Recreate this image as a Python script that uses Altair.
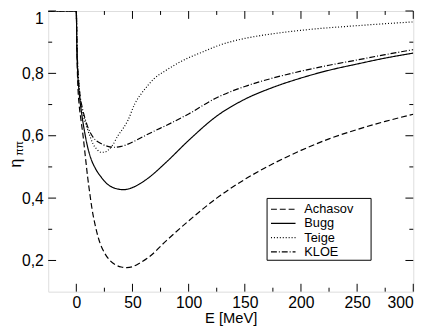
import altair as alt
import pandas as pd

series = ["Achasov", "Bugg", "Teige", "KLOE"]
dashes = [[6, 3], [1, 0], [1, 2], [6, 2, 1, 2]]

achasov_E = [-25, 0, 0.5, 1, 1.5, 2.5, 4, 6, 8, 10, 12, 14, 17, 20, 25, 30, 35, 40, 45, 50, 57, 65, 80, 100, 125, 150, 175, 200, 225, 250, 275, 300]
achasov_eta = [1, 1, 0.88, 0.80, 0.75, 0.70, 0.655, 0.60, 0.535, 0.47, 0.415, 0.365, 0.31, 0.268, 0.225, 0.20, 0.186, 0.179, 0.177, 0.18, 0.193, 0.212, 0.263, 0.327, 0.40, 0.46, 0.51, 0.553, 0.59, 0.62, 0.646, 0.669]

bugg_E = [-25, 0, 0.5, 1, 2, 3.5, 5, 7, 10, 13, 17, 22, 27, 32, 37, 42, 47, 52, 57, 65, 80, 100, 125, 150, 175, 200, 225, 250, 275, 300]
bugg_eta = [1, 1, 0.88, 0.82, 0.76, 0.705, 0.665, 0.62, 0.565, 0.527, 0.495, 0.468, 0.447, 0.435, 0.429, 0.427, 0.43, 0.437, 0.447, 0.467, 0.515, 0.585, 0.663, 0.717, 0.755, 0.785, 0.81, 0.83, 0.849, 0.865]

teige_E = [-25, 0, 0.5, 1, 2, 3.5, 5, 7, 9.6, 12.5, 15, 18.4, 22, 25, 28, 32, 37, 42, 46, 52, 60, 69, 80, 90, 100, 112, 127, 150, 175, 200, 250, 300]
teige_eta = [1, 1, 0.9, 0.84, 0.78, 0.72, 0.685, 0.655, 0.625, 0.595, 0.573, 0.556, 0.547, 0.547, 0.553, 0.568, 0.6, 0.625, 0.65, 0.702, 0.745, 0.782, 0.81, 0.832, 0.85, 0.868, 0.89, 0.912, 0.927, 0.938, 0.953, 0.965]

kloe_E = [-25, 0, 0.5, 1, 2, 3.5, 5, 7, 10, 15, 22, 28, 34, 40, 46, 52, 60, 70, 80, 100, 125, 150, 175, 200, 225, 250, 275, 300]
kloe_eta = [1, 1, 0.9, 0.845, 0.78, 0.725, 0.695, 0.665, 0.63, 0.595, 0.575, 0.566, 0.563, 0.566, 0.573, 0.583, 0.598, 0.616, 0.633, 0.67, 0.722, 0.758, 0.785, 0.807, 0.826, 0.843, 0.86, 0.876]

x_major = [0, 50, 100, 150, 200, 250, 300]
x_minor = [25, 75, 125, 175, 225, 275]
y_major = [0.2, 0.4, 0.6, 0.8, 1.0]
y_minor = [0.3, 0.5, 0.7, 0.9]

W, H = 372, 286
FONT = "Liberation Sans"

rows = []
for name, E, eta in [("Achasov", achasov_E, achasov_eta), ("Bugg", bugg_E, bugg_eta),
                     ("Teige", teige_E, teige_eta), ("KLOE", kloe_E, kloe_eta)]:
    for e, v in zip(E, eta):
        rows.append({"series": name, "E": e, "eta": v})
df = pd.DataFrame(rows)

xscale = alt.Scale(domain=[-25, 300], nice=False, zero=False)
yscale = alt.Scale(domain=[0.1, 1.0], nice=False, zero=False)

x_axis = alt.Axis(
    values=x_major, title="E [MeV]", ticks=False, tickSize=0, domain=False, grid=False,
    labelFont=FONT, labelFontSize=16, labelPadding=3, labelColor="black",
    titleFont=FONT, titleFontSize=15, titleFontWeight="normal", titleColor="black", titlePadding=0)
y_axis = alt.Axis(
    values=y_major, title=None, ticks=False, tickSize=0, domain=False, grid=False,
    labelFont=FONT, labelFontSize=16, labelPadding=5, labelColor="black",
    labelExpr="datum.value == 1 ? '1' : replace(format(datum.value, '.1f'), '.', ',')",
    labelBaseline={"condition": {"test": "datum.value == 1", "value": "top"}, "value": "middle"})

lines = alt.Chart(df).mark_line(color="black", strokeWidth=1.2, interpolate="monotone", clip=True).encode(
    x=alt.X("E:Q", scale=xscale, axis=x_axis),
    y=alt.Y("eta:Q", scale=yscale, axis=y_axis),
    strokeDash=alt.StrokeDash("series:N", sort=series,
        scale=alt.Scale(domain=series, range=dashes), legend=None),
)

def xticks(vals, length, top):
    d = pd.DataFrame({"E": vals})
    y0 = 0 if top else H
    y1 = length if top else H - length
    return alt.Chart(d).mark_rule(color="black", strokeWidth=1).encode(
        x=alt.X("E:Q", scale=xscale, axis=x_axis), y=alt.value(y0), y2=alt.value(y1))

def yticks(vals, length, right):
    d = pd.DataFrame({"eta": vals})
    x0 = W if right else 0
    x1 = W - length if right else length
    return alt.Chart(d).mark_rule(color="black", strokeWidth=1).encode(
        y=alt.Y("eta:Q", scale=yscale, axis=y_axis), x=alt.value(x0), x2=alt.value(x1))

tick_layers = [
    xticks(x_major, 8, False), xticks(x_minor, 4, False),
    xticks(x_major, 8, True), xticks(x_minor, 4, True),
    yticks(y_major, 8, False), yticks(y_minor, 4, False),
    yticks(y_major, 8, True), yticks(y_minor, 4, True),
]

# legend box (manual, to match the compact original)
LX0, LX1, LY0, LY1 = 223, 329, 191, 254
legend_layers = [
    alt.Chart(pd.DataFrame({"k": [0]})).mark_rect(fill="white", stroke="black", strokeWidth=1).encode(
        x=alt.value(LX0), x2=alt.value(LX1), y=alt.value(LY0), y2=alt.value(LY1))
]
row_y = [202, 216.5, 231, 245.5]
for name, dash, yy in zip(series, dashes, row_y):
    d = pd.DataFrame({"series": [name]})
    legend_layers.append(
        alt.Chart(d).mark_rule(color="black", strokeWidth=1.2, strokeDash=dash).encode(
            x=alt.value(227), x2=alt.value(252), y=alt.value(yy)))
    legend_layers.append(
        alt.Chart(d).mark_text(align="left", baseline="middle", font=FONT, fontSize=13, color="black").encode(
            text="series:N", x=alt.value(261), y=alt.value(yy)))

eta_title = alt.Chart(pd.DataFrame({"t": ["η"]})).mark_text(
    angle=270, font=FONT, fontSize=16, color="black", align="center", baseline="middle"
).encode(text="t:N", x=alt.value(-33), y=alt.value(155))

pipi_title = alt.Chart(pd.DataFrame({"t": ["ππ"]})).mark_text(
    angle=270, font=FONT, fontSize=11, color="black", align="center", baseline="middle"
).encode(text="t:N", x=alt.value(-28.5), y=alt.value(140))

chart = alt.layer(lines, *tick_layers, *legend_layers, eta_title, pipi_title).properties(
    width=W, height=H,
    autosize=alt.AutoSizeParams(type="none"),
    padding={"left": 41, "top": 0, "right": 15, "bottom": 35},
).configure_view(stroke="black", strokeWidth=1.2).configure(background="white")

chart.save("out.html", embed_options={"renderer": "svg", "actions": False})
